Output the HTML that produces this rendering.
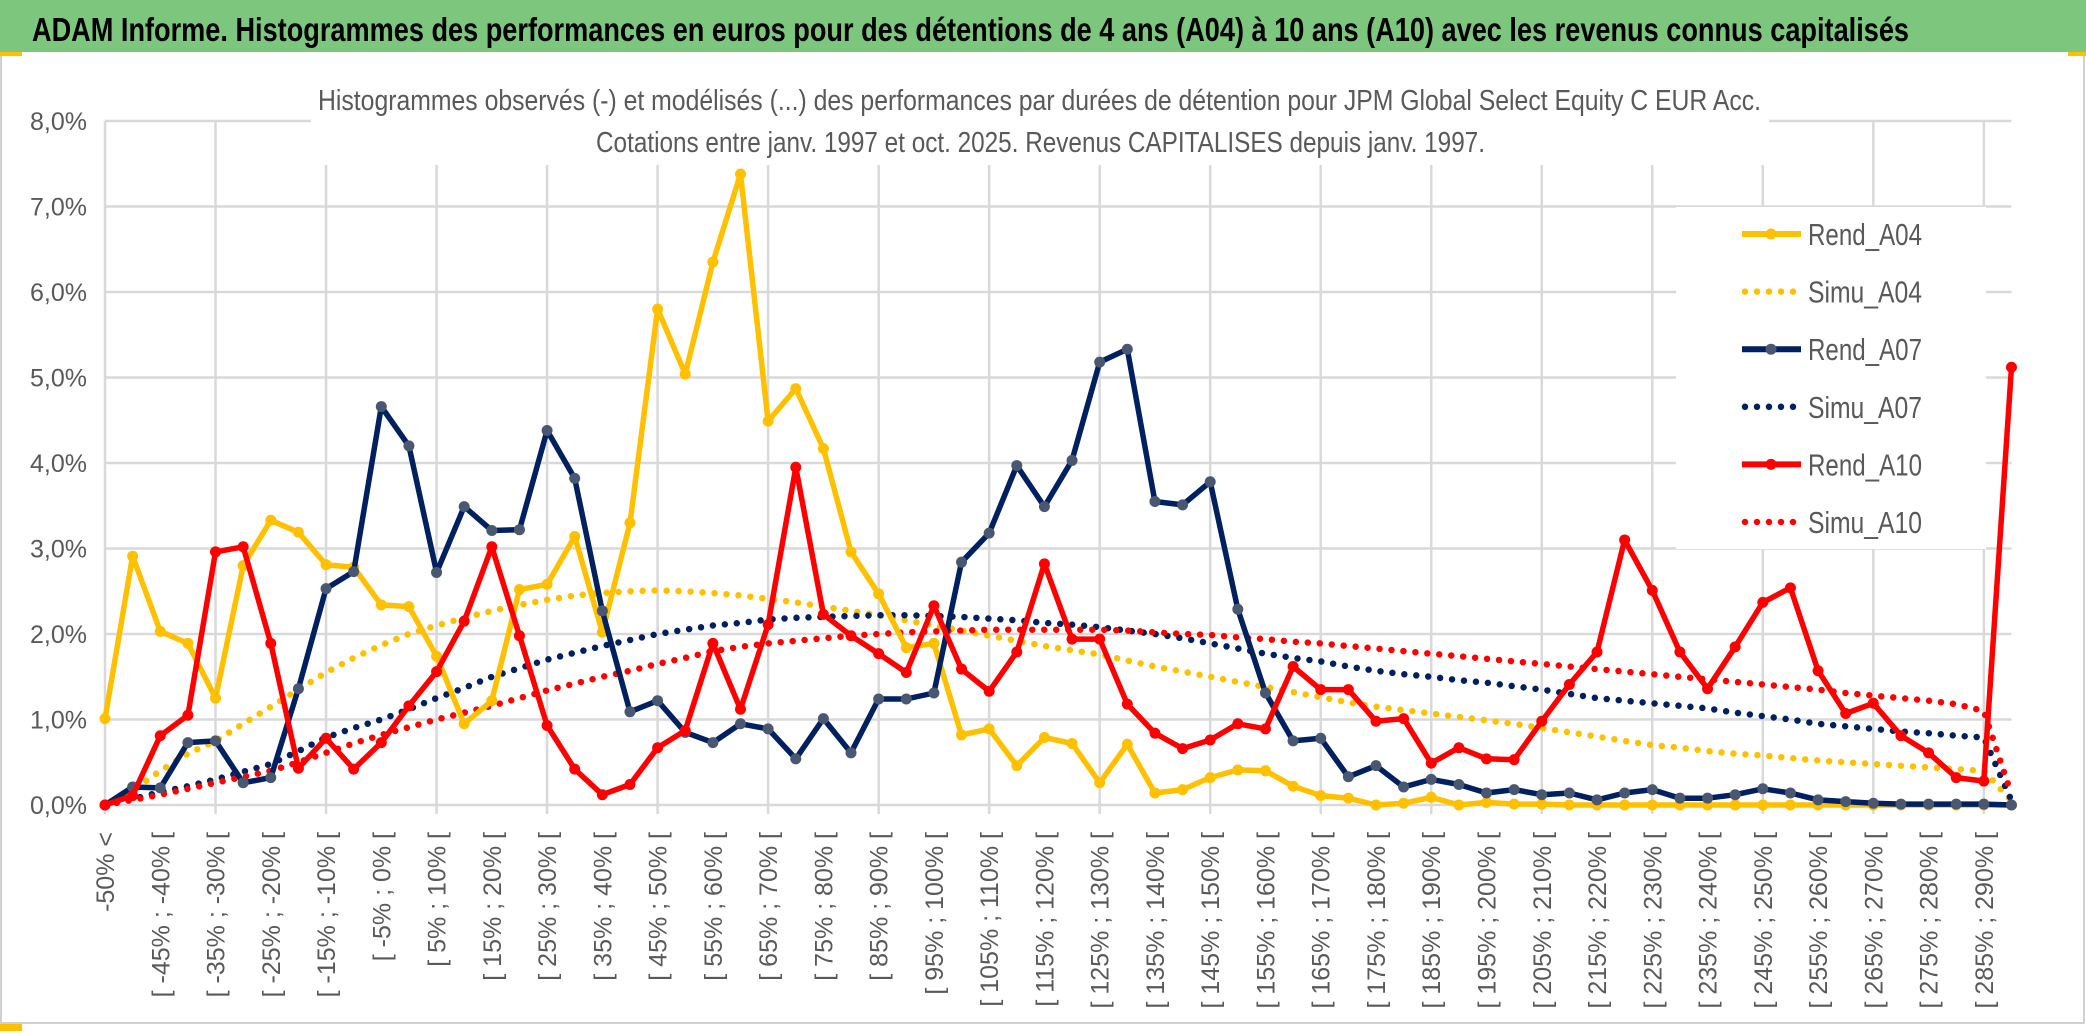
<!DOCTYPE html>
<html><head><meta charset="utf-8"><style>
html,body{margin:0;padding:0;background:#fff;}
svg{display:block;font-family:"Liberation Sans Narrow","Liberation Sans",sans-serif;}
</style></head><body>
<svg id="chart" width="2086" height="1033" viewBox="0 0 2086 1033" xmlns="http://www.w3.org/2000/svg">
<rect x="0" y="0" width="2086" height="1033" fill="#fff"/>
<rect x="1" y="1" width="2083" height="1022" fill="none" stroke="#d0d0d0" stroke-width="2"/>
<rect x="0" y="0" width="2086" height="52" fill="#7DC67E"/>
<rect x="0" y="52" width="22" height="4" fill="#FFC000"/>
<rect x="2068" y="52" width="18" height="4" fill="#FFC000"/>
<rect x="0" y="1024" width="22" height="7" fill="#FFC000"/>
<text x="32" y="41" font-size="33" font-weight="bold" fill="#000" textLength="1877" lengthAdjust="spacingAndGlyphs">ADAM Informe. Histogrammes des performances en euros pour des détentions de 4 ans (A04) à 10 ans (A10) avec les revenus connus capitalisés</text>
<g id="grid"></g>
<rect x="311" y="60" width="1458" height="105" fill="#fff"/>
<text x="318" y="110" font-size="29" fill="#595959" textLength="1443" lengthAdjust="spacingAndGlyphs">Histogrammes observés (-) et modélisés (...) des performances par durées de détention pour JPM Global Select Equity C EUR Acc.</text>
<text x="596" y="152" font-size="29" fill="#595959" textLength="889" lengthAdjust="spacingAndGlyphs">Cotations entre janv. 1997 et oct. 2025. Revenus CAPITALISES depuis janv. 1997.</text>
<g id="yaxis"></g>
<g id="xaxis"></g>
<g id="series"></g>
<g id="legend"></g>
</svg>
<script>
const yTicks = [0,1,2,3,4,5,6,7,8];
const rendA04 = [1.01,2.91,2.03,1.89,1.25,2.80,3.33,3.19,2.81,2.78,
2.34,2.32,1.74,0.95,1.22,2.52,2.58,3.14,2.02,3.30,
5.80,5.04,6.35,7.38,4.49,4.87,4.17,2.96,2.47,1.84,
1.89,0.82,0.89,0.46,0.79,0.72,0.26,0.71,0.14,0.18,
0.32,0.41,0.40,0.22,0.11,0.08,0.0,0.02,0.09,0.0,
0.03,0.01,0.01,0,0,0,0,0,0,0,
0,0,0,0,0,0,0,0,0,0];
const simuA04 = [0,0.17,0.4,0.6,0.75,0.95,1.15,1.35,1.55,1.72,
1.87,2.0,2.1,2.19,2.27,2.34,2.4,2.45,2.48,2.5,
2.51,2.5,2.48,2.45,2.41,2.37,2.32,2.27,2.22,2.16,
2.1,2.04,1.98,1.92,1.86,1.81,1.76,1.69,1.62,1.56,
1.5,1.44,1.38,1.32,1.26,1.2,1.15,1.11,1.07,1.03,
0.99,0.95,0.9,0.85,0.8,0.75,0.7,0.67,0.63,0.6,
0.58,0.55,0.52,0.5,0.48,0.46,0.44,0.42,0.4,0.05];
const rendA07 = [0,0.21,0.20,0.73,0.75,0.26,0.32,1.36,2.53,2.73,
4.66,4.20,2.72,3.49,3.21,3.22,4.38,3.82,2.27,1.09,
1.22,0.85,0.73,0.95,0.89,0.54,1.01,0.61,1.24,1.24,
1.31,2.84,3.18,3.97,3.49,4.03,5.18,5.33,3.55,3.51,
3.78,2.29,1.31,0.75,0.78,0.33,0.46,0.21,0.30,0.24,
0.14,0.18,0.12,0.14,0.06,0.14,0.18,0.08,0.08,0.12,
0.19,0.14,0.06,0.04,0.02,0.01,0.01,0.01,0.01,0];
const simuA07 = [0,0.07,0.15,0.22,0.3,0.39,0.48,0.63,0.79,0.9,
1.0,1.12,1.25,1.37,1.5,1.6,1.7,1.78,1.86,1.93,
2.0,2.05,2.1,2.13,2.17,2.19,2.2,2.21,2.22,2.22,
2.21,2.2,2.18,2.16,2.13,2.11,2.08,2.04,2.0,1.95,
1.89,1.83,1.77,1.72,1.68,1.62,1.57,1.53,1.5,1.46,
1.43,1.39,1.35,1.3,1.25,1.22,1.19,1.16,1.13,1.08,
1.04,1.0,0.95,0.92,0.89,0.86,0.84,0.81,0.79,0.05];
const rendA10 = [0,0.11,0.81,1.05,2.96,3.02,1.89,0.43,0.78,0.42,
0.73,1.16,1.56,2.15,3.02,1.98,0.93,0.42,0.12,0.24,
0.67,0.87,1.89,1.12,2.11,3.95,2.23,1.98,1.77,1.55,
2.33,1.59,1.33,1.79,2.82,1.94,1.94,1.18,0.84,0.66,
0.76,0.95,0.89,1.62,1.35,1.35,0.98,1.01,0.49,0.67,
0.54,0.53,0.98,1.41,1.79,3.10,2.51,1.79,1.36,1.85,
2.37,2.54,1.57,1.07,1.19,0.81,0.61,0.32,0.28,5.12];
const simuA10 = [0,0.06,0.12,0.19,0.26,0.33,0.4,0.5,0.61,0.72,
0.82,0.91,1.0,1.08,1.16,1.25,1.34,1.42,1.5,1.57,
1.65,1.72,1.8,1.85,1.89,1.92,1.95,1.98,2.0,2.02,
2.03,2.04,2.05,2.05,2.05,2.05,2.05,2.04,2.02,2.0,
1.99,1.96,1.94,1.91,1.89,1.86,1.83,1.8,1.77,1.74,
1.71,1.68,1.65,1.62,1.59,1.56,1.53,1.5,1.47,1.44,
1.41,1.38,1.35,1.31,1.28,1.25,1.22,1.18,1.1,0.12];
const categories = rendA04.map((_, k) => k === 0 ? "-50% <" : "[ " + (-55 + 5 * k) + "% ; " + (-50 + 5 * k) + "% [");

const NS = "http://www.w3.org/2000/svg";
const X0 = 105, DX = 27.63, Y0 = 805, DY = 85.5;
const xs = i => X0 + i * DX;
const ys = v => Y0 - v * DY;
const XR = xs(categories.length - 1);
function mk(tag, attrs, parent) {
  const e = document.createElementNS(NS, tag);
  for (const k in attrs) e.setAttribute(k, attrs[k]);
  parent.appendChild(e);
  return e;
}
const grid = document.getElementById("grid");
yTicks.forEach(t => {
  const l = mk("line", {x1: X0, x2: XR, y1: ys(t), y2: ys(t), stroke: "#d9d9d9", "stroke-width": 2.5}, grid);
  
  
});
for (let i = 0; i < categories.length; i += 4) {
  const l = mk("line", {x1: xs(i), x2: xs(i), y1: ys(8), y2: Y0 + 9, stroke: "#d9d9d9", "stroke-width": 2.5}, grid);
  
  
}
const yaxis = document.getElementById("yaxis");
yTicks.forEach(t => {
  const tx = mk("text", {x: 87, y: ys(t) + 9, "font-size": 25, fill: "#595959", "text-anchor": "end"}, yaxis);
  tx.textContent = t.toFixed(1).replace(".", ",") + "%";
  
  
});
const xaxis = document.getElementById("xaxis");
categories.forEach((c, i) => {
  if (i % 2) return;
  const x = xs(i) + 9, y = 832;
  const tx = mk("text", {x: x, y: y, "font-size": 25, fill: "#595959", "text-anchor": "end", transform: "rotate(-90 " + x + " " + y + ")"}, xaxis);
  tx.textContent = c;
  
  
});
const series = document.getElementById("series");
const defs = [
  {name: "Rend_A04", data: rendA04, color: "#FFC000", marker: "#FFC000", dotted: false},
  {name: "Simu_A04", data: simuA04, color: "#FFC000", dotted: true},
  {name: "Rend_A07", data: rendA07, color: "#002060", marker: "#4a5770", dotted: false},
  {name: "Simu_A07", data: simuA07, color: "#002060", dotted: true},
  {name: "Rend_A10", data: rendA10, color: "#FF0000", marker: "#FF0000", dotted: false},
  {name: "Simu_A10", data: simuA10, color: "#FF0000", dotted: true}
];
const order = [1, 3, 5, 0, 2, 4];
order.forEach(si => {
  const s = defs[si];
  const pts = s.data.map((v, i) => xs(i).toFixed(1) + "," + ys(v).toFixed(1)).join(" ");
  const attrs = {points: pts, fill: "none", stroke: s.color, "stroke-linejoin": "round"};
  if (s.dotted) { attrs["stroke-width"] = 6.5; attrs["stroke-dasharray"] = "0 12"; attrs["stroke-linecap"] = "round"; }
  else { attrs["stroke-width"] = 5.5; }
  const pl = mk("polyline", attrs, series);
  
  
  if (!s.dotted) {
    s.data.forEach((v, i) => {
      const c = mk("circle", {cx: xs(i), cy: ys(v), r: 5.5, fill: s.marker}, series);
      
      
    });
  }
});
const legend = document.getElementById("legend");
const lb = mk("rect", {x: 1676, y: 207, width: 310, height: 342, fill: "#fff"}, legend);


defs.forEach((s, k) => {
  const cy = 234 + k * 57.6;
  const g = mk("g", {}, legend);
  
  
  const la = {x1: 1742, x2: 1801, y1: cy, y2: cy, stroke: s.color};
  if (s.dotted) { la["stroke-width"] = 6.5; la["stroke-dasharray"] = "0 12"; la["stroke-linecap"] = "round"; la.x1 = 1745; }
  else la["stroke-width"] = 6;
  mk("line", la, g);
  if (!s.dotted) mk("circle", {cx: 1771, cy: cy, r: 5.5, fill: s.marker}, g);
  const t = mk("text", {x: 1808, y: cy + 11, "font-size": 31, fill: "#595959", textLength: 114, lengthAdjust: "spacingAndGlyphs"}, g);
  t.textContent = s.name;
});
</script>
</body></html>
